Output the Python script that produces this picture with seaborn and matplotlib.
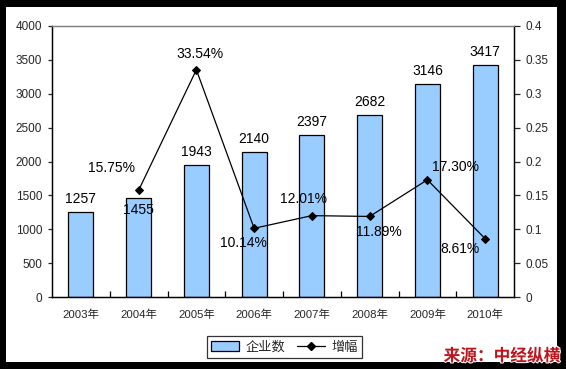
import numpy as np
import pandas as pd
import matplotlib
matplotlib.use("Agg")
import matplotlib.pyplot as plt
import matplotlib.patches as mpatches
import matplotlib.lines as mlines
import matplotlib.patheffects as pe
from matplotlib.ticker import FuncFormatter, MultipleLocator
import seaborn as sns

# ---- data ----
years = ["2003年", "2004年", "2005年", "2006年", "2007年", "2008年", "2009年", "2010年"]
companies = [1257, 1455, 1943, 2140, 2397, 2682, 3146, 3417]
growth_years = ["2004年", "2005年", "2006年", "2007年", "2008年", "2009年", "2010年"]
growth = [0.1575, 0.3354, 0.1014, 0.1201, 0.1189, 0.1730, 0.0861]
growth_labels = ["15.75%", "33.54%", "10.14%", "12.01%", "11.89%", "17.30%", "8.61%"]
bar_series_name = "企业数"
line_series_name = "增幅"
source_text = "来源：中经纵横"

# ---- label placement (pixels) ----
bar_label_offsets = [6, -5, 6, 6, 6, 6, 6, 6]
bar_label_va = ["bottom", "top", "bottom", "bottom", "bottom", "bottom", "bottom", "bottom"]
pct_label_offsets = [(-27, 22), (4, 16), (-11, -15), (-8, 17), (9, -16), (28, 13), (-25, -10)]

sns.set_style("white")
plt.rcParams["font.family"] = ["Liberation Sans", "Noto Sans CJK SC", "DejaVu Sans"]

W, H = 566, 369
fig = plt.figure(figsize=(W / 100, H / 100), dpi=100)
fig.patch.set_facecolor("black")
fig.patches.append(mpatches.Rectangle((6 / W, 1 - 362 / H), 551 / W, 355 / H,
                                      transform=fig.transFigure, facecolor="white",
                                      edgecolor="none", zorder=-10))

ax = fig.add_axes([52 / W, 1 - 297 / H, 462 / W, 271 / H])
ax.set_facecolor("white")

df = pd.DataFrame({"year": years, "count": companies})
sns.barplot(data=df, x="year", y="count", color="#99CCFF", saturation=1,
            edgecolor="black", linewidth=0.9, width=0.43, ax=ax)
ax.set_xlim(-0.5, len(years) - 0.5)
ax.set_ylim(0, 4000)
ax.yaxis.set_major_locator(MultipleLocator(500))
ax.set_xlabel("")
ax.set_ylabel("")

for i, v in enumerate(companies):
    ax.annotate(str(v), (i, v), xytext=(0, bar_label_offsets[i]), textcoords="offset pixels",
                ha="center", va=bar_label_va[i], fontsize=10, color="black", zorder=5)

ax2 = ax.twinx()
idx = [years.index(y) for y in growth_years]
ldf = pd.DataFrame({"x": idx, "g": growth})
sns.lineplot(data=ldf, x="x", y="g", ax=ax2, color="black", linewidth=0.9,
             marker="D", markersize=4.5, markeredgecolor="black", markerfacecolor="black")
ax2.set_ylim(0, 0.4)
ax2.yaxis.set_major_locator(MultipleLocator(0.05))
ax2.yaxis.set_major_formatter(FuncFormatter(lambda v, p: f"{round(v, 2):g}"))
ax2.set_ylabel("")
ax2.set_xlim(-0.5, len(years) - 0.5)

for j, (xi, g) in enumerate(zip(idx, growth)):
    dx, dy = pct_label_offsets[j]
    ax2.annotate(growth_labels[j], (xi, g), xytext=(dx, dy), textcoords="offset pixels",
                 ha="center", va="center", fontsize=10, color="black", zorder=6)

# spines & ticks
for a in (ax, ax2):
    for s in a.spines.values():
        s.set_linewidth(0.9)
        s.set_color("black")
    a.spines["top"].set_color("#808080")
ax.set_xticks(range(len(years)))
ax.set_xticklabels(years)
ax.set_xticks(np.arange(0.5, len(years) - 0.5, 1), minor=True)
ax.tick_params(axis="x", which="major", length=0, labelsize=8.2, pad=9)
ax.tick_params(axis="x", which="minor", direction="in", length=4, width=0.9, color="black", bottom=True)
ax.tick_params(axis="y", which="major", direction="out", length=3, width=0.9,
               labelsize=8.5, left=True, pad=4)
ax2.tick_params(axis="y", which="major", direction="out", length=4, width=0.9,
                labelsize=8.5, right=True, pad=4)
for lab in ax.get_xticklabels():
    lab.set_family(["Liberation Sans", "Noto Sans CJK SC"])

# legend
h1 = mpatches.Patch(facecolor="#99CCFF", edgecolor="black", linewidth=0.9, label=bar_series_name)
h2 = mlines.Line2D([], [], color="black", linewidth=0.9, marker="D", markersize=4, label=line_series_name)
leg = fig.legend(handles=[h1, h2], loc="center", bbox_to_anchor=(284.5 / W, 1 - 347 / H),
                 ncol=2, frameon=True, fancybox=False, handlelength=2.1,
                 handleheight=0.8, handletextpad=0.5, columnspacing=0.9, borderpad=0.35,
                 prop={"family": ["Noto Sans CJK SC"], "size": 9.5})
leg.get_frame().set_edgecolor("black")
leg.get_frame().set_linewidth(0.9)

# source
fig.text(560 / W, 1 - 356 / H, source_text, ha="right", va="center", fontsize=12,
         fontweight="bold", fontstyle="italic", color="#C0141C", family=["Noto Sans CJK SC"],
         path_effects=[pe.withStroke(linewidth=1.5, foreground="white")])

fig.savefig("out.png", dpi=100, facecolor=fig.get_facecolor())
